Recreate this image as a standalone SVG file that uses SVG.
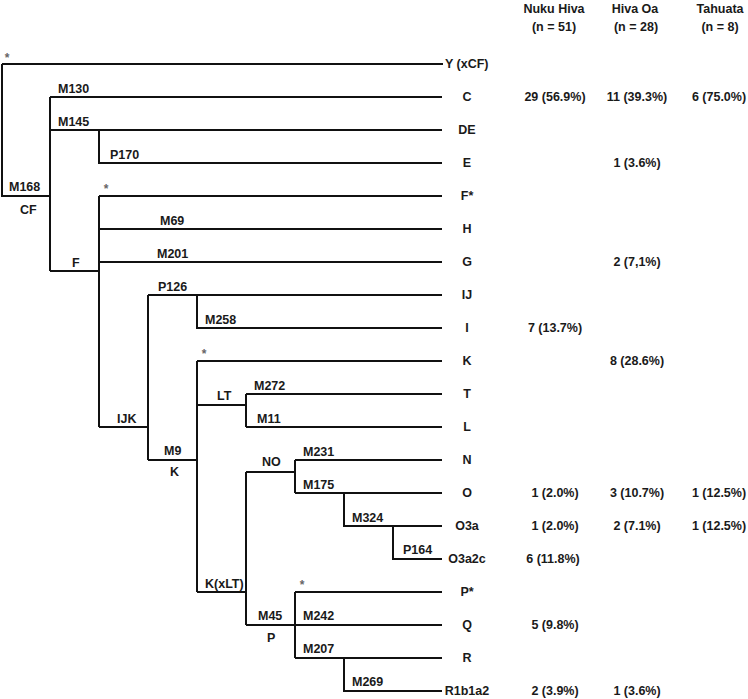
<svg xmlns="http://www.w3.org/2000/svg" width="748" height="699" viewBox="0 0 748 699">
<style>
text{font-family:"Liberation Sans",Arial,sans-serif;font-weight:bold;font-size:12.5px;fill:#1a1a1a}
.lf{text-anchor:middle}
.c{text-anchor:middle}
.st{text-anchor:middle;fill:#666;font-size:12px}
#connectors path{fill:none;stroke:#111;stroke-width:2}
</style>
<rect width="748" height="699" fill="#fff"/>
<g id="connectors">
<path d="M2,64 H443 M2,64 V196 H50"/>
<path d="M50,97 V271 M50,97 H442 M50,130 H442"/>
<path d="M99,130 V163 H442"/>
<path d="M50,271 H99 M99,196 V427 M99,196 H442 M99,229 H442 M99,262 H442 M99,427 H148"/>
<path d="M148,295 V460 M148,295 H442 M197,295 V328 H442"/>
<path d="M148,460 H197 M197,361 V592 M197,361 H442 M197,405 H246 M246,394 V427 M246,394 H442 M246,427 H442"/>
<path d="M197,592 H246 M246,472 V625 M246,472 H295 M295,460 V493 M295,460 H442 M295,493 H442 M344,493 V526 H442 M393,526 V559 H442"/>
<path d="M246,625 H442 M295,592 V658 M295,592 H442 M295,658 H442 M344,658 V691 H442"/>
</g>
<g id="header">
<text class="c" x="554" y="13">Nuku Hiva</text>
<text class="c" x="554" y="31">(n = 51)</text>
<text class="c" x="635" y="13">Hiva Oa</text>
<text class="c" x="636" y="31">(n = 28)</text>
<text class="c" x="720" y="13">Tahuata</text>
<text class="c" x="720" y="31">(n = 8)</text>
</g>
<g id="node-root"><text class="st" x="7" y="62">*</text><text x="9" y="191">M168</text><text x="20" y="214">CF</text></g>
<g id="node-C"><text x="58" y="93">M130</text></g>
<g id="node-DE"><text x="58" y="126">M145</text><text x="110" y="159">P170</text></g>
<g id="node-F"><text class="st" x="106" y="193">*</text><text x="160" y="225">M69</text><text x="157" y="258">M201</text><text x="72" y="267">F</text></g>
<g id="node-IJK"><text x="117" y="423">IJK</text><text x="158" y="291">P126</text><text x="205" y="324">M258</text></g>
<g id="node-K"><text x="164" y="455">M9</text><text x="170" y="476">K</text><text class="st" x="204" y="358">*</text></g>
<g id="node-LT"><text x="217" y="400">LT</text><text x="254" y="390">M272</text><text x="257" y="423">M11</text></g>
<g id="node-KxLT"><text x="205" y="588">K(xLT)</text></g>
<g id="node-NO"><text x="262" y="466">NO</text><text x="303" y="456">M231</text><text x="303" y="489">M175</text><text x="352" y="522">M324</text><text x="403" y="554">P164</text></g>
<g id="node-P"><text x="258" y="620">M45</text><text x="267" y="642">P</text><text class="st" x="302" y="589">*</text><text x="303" y="620">M242</text><text x="303" y="653">M207</text><text x="352" y="686">M269</text></g>
<g id="leaves">
<text x="445" y="68">Y (xCF)</text>
<text class="lf" x="467" y="101">C</text>
<text class="lf" x="467" y="134">DE</text>
<text class="lf" x="467" y="167">E</text>
<text class="lf" x="467" y="200">F*</text>
<text class="lf" x="467" y="233">H</text>
<text class="lf" x="467" y="266">G</text>
<text class="lf" x="467" y="299">IJ</text>
<text class="lf" x="467" y="332">I</text>
<text class="lf" x="467" y="365">K</text>
<text class="lf" x="467" y="398">T</text>
<text class="lf" x="467" y="431">L</text>
<text class="lf" x="467" y="464">N</text>
<text class="lf" x="467" y="497">O</text>
<text class="lf" x="467" y="530">O3a</text>
<text class="lf" x="467" y="563">O3a2c</text>
<text class="lf" x="467" y="596">P*</text>
<text class="lf" x="467" y="629">Q</text>
<text class="lf" x="467" y="662">R</text>
<text class="lf" x="467" y="695">R1b1a2</text>
</g>
<g id="data">
<text class="c" x="555" y="101">29 (56.9%)</text><text class="c" x="637" y="101">11 (39.3%)</text><text class="c" x="719" y="101">6 (75.0%)</text>
<text class="c" x="637" y="167">1 (3.6%)</text>
<text class="c" x="637" y="266">2 (7,1%)</text>
<text class="c" x="555" y="332">7 (13.7%)</text>
<text class="c" x="637" y="365">8 (28.6%)</text>
<text class="c" x="555" y="497">1 (2.0%)</text><text class="c" x="637" y="497">3 (10.7%)</text><text class="c" x="719" y="497">1 (12.5%)</text>
<text class="c" x="555" y="530">1 (2.0%)</text><text class="c" x="637" y="530">2 (7.1%)</text><text class="c" x="719" y="530">1 (12.5%)</text>
<text class="c" x="553" y="563">6 (11.8%)</text>
<text class="c" x="555" y="629">5 (9.8%)</text>
<text class="c" x="555" y="695">2 (3.9%)</text><text class="c" x="637" y="695">1 (3.6%)</text>
</g>
</svg>
